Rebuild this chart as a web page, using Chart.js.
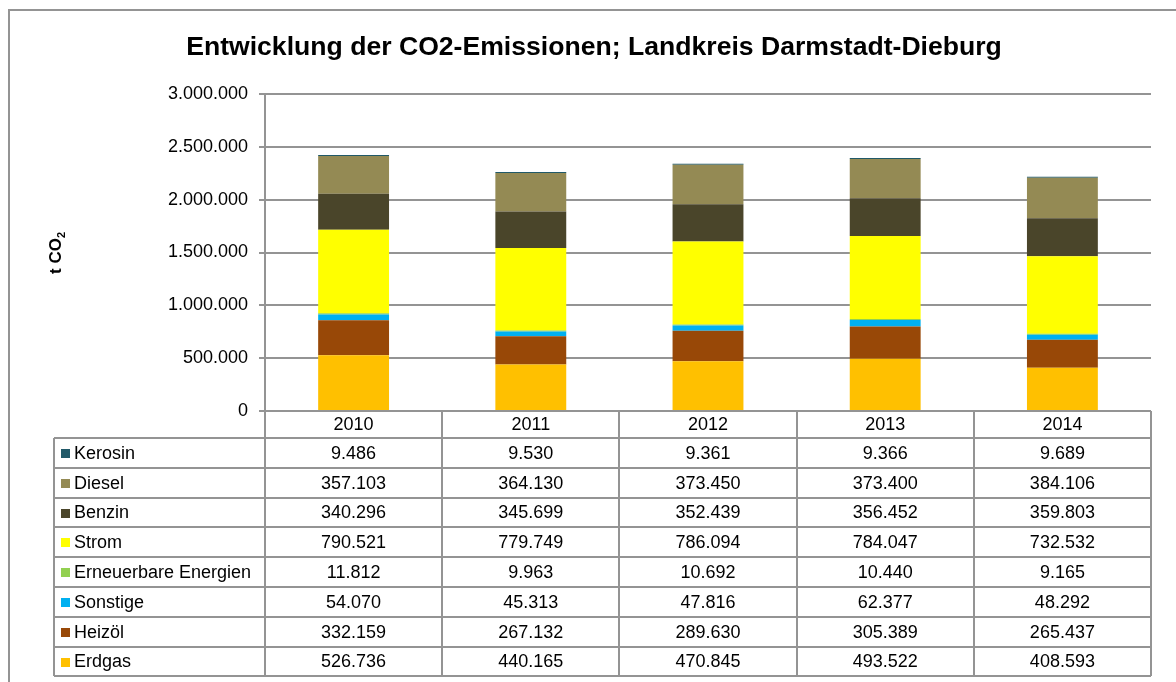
<!DOCTYPE html>
<html>
<head>
<meta charset="utf-8">
<script src="https://cdn.jsdelivr.net/npm/chart.js@4.4.0/dist/chart.umd.min.js"></script>
<style>
  html, body { margin: 0; padding: 0; background: #fff; }
</style>
</head>
<body>
<canvas id="co2Chart" width="1176" height="682"></canvas>
<script>
// Entwicklung der CO2-Emissionen, Landkreis Darmstadt-Dieburg
const years = ['2010', '2011', '2012', '2013', '2014'];

const erdgas      = [526736, 440165, 470845, 493522, 408593];
const heizoel     = [332159, 267132, 289630, 305389, 265437];
const sonstige    = [54070, 45313, 47816, 62377, 48292];
const erneuerbare = [11812, 9963, 10692, 10440, 9165];
const strom       = [790521, 779749, 786094, 784047, 732532];
const benzin      = [340296, 345699, 352439, 356452, 359803];
const diesel      = [357103, 364130, 373450, 373400, 384106];
const kerosin     = [9486, 9530, 9361, 9366, 9689];

// stack order, bottom to top
const seriesNames  = ['Erdgas', 'Heizöl', 'Sonstige', 'Erneuerbare Energien', 'Strom', 'Benzin', 'Diesel', 'Kerosin'];
const seriesValues = [erdgas, heizoel, sonstige, erneuerbare, strom, benzin, diesel, kerosin];
const seriesColors = ['#FFC000', '#984807', '#00B0F0', '#92D050', '#FFFF00', '#4A452A', '#948A54', '#215968'];

const yTicks = [0, 500000, 1000000, 1500000, 2000000, 2500000, 3000000];

const titleText = 'Entwicklung der CO2-Emissionen; Landkreis Darmstadt-Dieburg';
const fontFamily = '"Liberation Sans", Arial, sans-serif';
const lineGrey = '#949494';

function fmt(v) {
    return String(v).replace(/\B(?=(\d{3})+(?!\d))/g, '.');
}

// title, y axis title, outer frame and the data table under the plot
const tablePlugin = {
    id: 'co2Table',
    afterDraw(chart) {
        const ctx = chart.ctx;
        const xs = chart.scales.x;
        const area = chart.chartArea;
        const colW = (area.right - area.left) / years.length;
        const tableTop = 438;
        const rowH = 29.8;
        const labelLeft = 54;
        const tableBottom = tableTop + rowH * seriesNames.length;

        ctx.save();

        // frame
        ctx.strokeStyle = lineGrey;
        ctx.lineWidth = 2;
        ctx.strokeRect(9, 10, 1200, 700);

        // title
        ctx.fillStyle = '#000';
        ctx.font = 'bold 26.6px ' + fontFamily;
        ctx.textAlign = 'center';
        ctx.textBaseline = 'alphabetic';
        ctx.fillText(titleText, 594, 55);

        // y axis title "t CO2" with subscript
        ctx.save();
        ctx.translate(61, 253);
        ctx.rotate(-Math.PI / 2);
        ctx.font = 'bold 17px ' + fontFamily;
        const mainW = ctx.measureText('t CO').width;
        ctx.font = 'bold 11px ' + fontFamily;
        const subW = ctx.measureText('2').width;
        const startX = -(mainW + subW) / 2;
        ctx.textAlign = 'left';
        ctx.font = 'bold 17px ' + fontFamily;
        ctx.fillText('t CO', startX, 0);
        ctx.font = 'bold 11px ' + fontFamily;
        ctx.fillText('2', startX + mainW, 4);
        ctx.restore();

        // table grid
        ctx.beginPath();
        ctx.moveTo(area.left, Math.round(area.bottom));
        ctx.lineTo(area.right, Math.round(area.bottom));
        for (let r = 0; r <= seriesNames.length; r++) {
            const y = Math.round(tableTop + r * rowH);
            ctx.moveTo(labelLeft, y);
            ctx.lineTo(area.right, y);
        }
        ctx.moveTo(labelLeft, tableTop);
        ctx.lineTo(labelLeft, Math.round(tableBottom));
        for (let i = 0; i <= years.length; i++) {
            const bx = i < years.length
                ? xs.getPixelForValue(i) - colW / 2
                : xs.getPixelForValue(years.length - 1) + colW / 2;
            ctx.moveTo(Math.round(bx), area.bottom);
            ctx.lineTo(Math.round(bx), Math.round(tableBottom));
        }
        ctx.stroke();

        // header: years
        ctx.fillStyle = '#000';
        ctx.font = '18px ' + fontFamily;
        ctx.textAlign = 'center';
        ctx.textBaseline = 'middle';
        years.forEach((yr, i) => {
            ctx.fillText(yr, xs.getPixelForValue(i), (area.bottom + tableTop) / 2 + 1);
        });

        // rows, top row is the top of the stack
        for (let r = 0; r < seriesNames.length; r++) {
            const s = seriesNames.length - 1 - r;
            const cy = tableTop + r * rowH + rowH / 2 + 1;
            ctx.fillStyle = seriesColors[s];
            ctx.fillRect(61, Math.round(cy - 5), 9, 9);
            ctx.fillStyle = '#000';
            ctx.textAlign = 'left';
            ctx.fillText(seriesNames[s], 74, cy);
            ctx.textAlign = 'center';
            seriesValues[s].forEach((v, i) => {
                ctx.fillText(fmt(v), xs.getPixelForValue(i), cy);
            });
        }

        ctx.restore();
    }
};

const ctx1 = document.getElementById('co2Chart').getContext('2d');
new Chart(ctx1, {
    type: 'bar',
    data: {
        labels: years,
        datasets: seriesNames.map((name, i) => ({
            label: name,
            data: seriesValues[i],
            backgroundColor: seriesColors[i],
            borderWidth: 0,
            barPercentage: 0.4,
            categoryPercentage: 1
        }))
    },
    options: {
        responsive: false,
        animation: false,
        layout: {
            padding: { top: 94, right: 25, left: 0, bottom: 0 }
        },
        plugins: {
            legend: { display: false },
            title: { display: false },
            tooltip: { enabled: false }
        },
        scales: {
            x: {
                stacked: true,
                grid: { display: false, drawTicks: false },
                border: { display: false },
                ticks: { display: false },
                afterFit: (scale) => { scale.height = 271; }
            },
            y: {
                stacked: true,
                min: 0,
                max: 3000000,
                afterBuildTicks: (scale) => {
                    scale.ticks = yTicks.map(v => ({ value: v }));
                },
                ticks: {
                    color: '#000',
                    padding: 11,
                    font: { size: 18, family: fontFamily },
                    callback: (v) => fmt(v)
                },
                grid: {
                    color: lineGrey,
                    lineWidth: 2,
                    tickLength: 6
                },
                border: { display: true, color: lineGrey, width: 2 },
                afterFit: (scale) => { scale.width = 265; }
            }
        }
    },
    plugins: [tablePlugin]
});
</script>
</body>
</html>
